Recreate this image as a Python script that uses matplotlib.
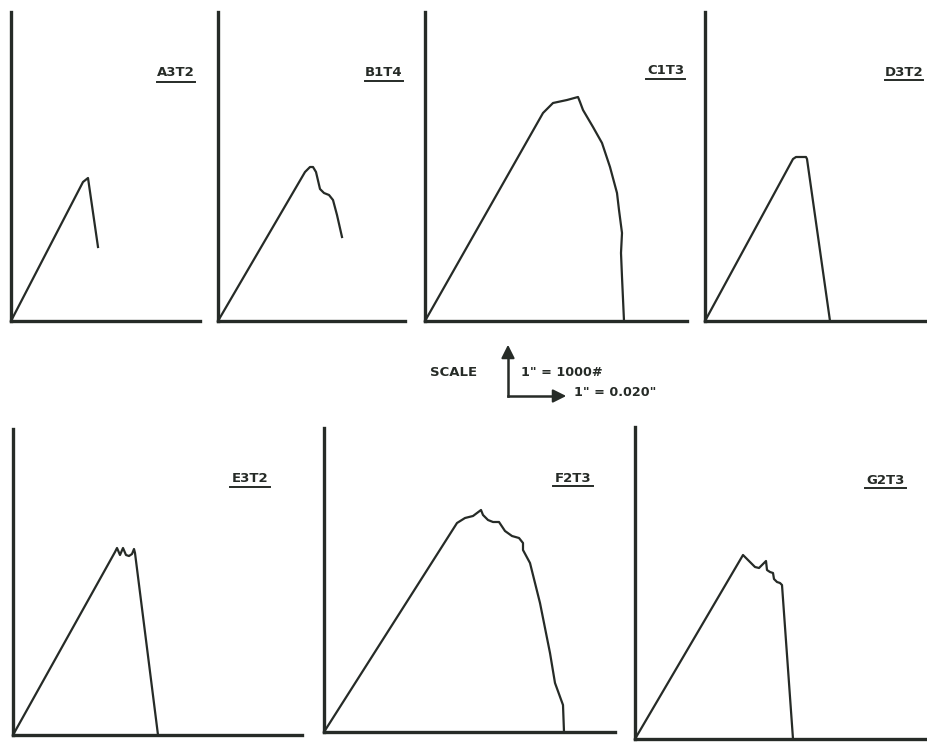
import matplotlib
matplotlib.use("Agg")
import matplotlib.pyplot as plt
from matplotlib.lines import Line2D
from matplotlib.patches import FancyArrowPatch

# ---------------- data (deflection in inches, load in lb) ----------------
names = ["A3T2", "B1T4", "C1T3", "D3T2", "E3T2", "F2T3", "G2T3"]

a_defl = [0, 0.0144, 0.0154, 0.0174]
a_load = [0, 1390, 1430, 740]

b_defl = [0, 0.0174, 0.0184, 0.0190, 0.0196, 0.0204, 0.0212, 0.0222, 0.0230, 0.0238, 0.0248]
b_load = [0, 1490, 1540, 1540, 1490, 1320, 1280, 1260, 1210, 1060, 840]

c_defl = [0, 0.0236, 0.0256, 0.0284, 0.0306, 0.0310, 0.0316, 0.0336, 0.0354, 0.0370,
          0.0384, 0.0388, 0.0394, 0.0392, 0.0394, 0.0398]
c_load = [0, 2080, 2180, 2210, 2240, 2190, 2110, 1940, 1780, 1540,
          1280, 1110, 880, 680, 440, 0]

d_defl = [0, 0.0176, 0.0182, 0.0202, 0.0204, 0.0250]
d_load = [0, 1620, 1640, 1640, 1620, 0]

e_defl = [0, 0.0204, 0.0208, 0.0214, 0.0220, 0.0226, 0.0232, 0.0238, 0.0242, 0.0244, 0.0290]
e_load = [0, 1830, 1870, 1800, 1870, 1800, 1790, 1810, 1860, 1820, 0]

f_defl = [0, 0.0266, 0.0282, 0.0298, 0.0306, 0.0314, 0.0318, 0.0328, 0.0338, 0.0350,
          0.0354, 0.0362, 0.0376, 0.0390, 0.0398, 0.0398, 0.0412, 0.0432, 0.0452,
          0.0462, 0.0478, 0.0480]
f_load = [0, 2090, 2140, 2160, 2190, 2220, 2170, 2120, 2100, 2100,
          2070, 2010, 1960, 1940, 1890, 1820, 1690, 1290, 790,
          490, 270, 0]

g_defl = [0, 0.0216, 0.0240, 0.0248, 0.0256, 0.0262, 0.0264, 0.0270, 0.0276, 0.0278,
          0.0284, 0.0290, 0.0294, 0.0316]
g_load = [0, 1840, 1720, 1710, 1750, 1780, 1690, 1670, 1660, 1600,
          1570, 1560, 1540, 0]

curves = [(a_defl, a_load), (b_defl, b_load), (c_defl, c_load), (d_defl, d_load),
          (e_defl, e_load), (f_defl, f_load), (g_defl, g_load)]

scale_label = "SCALE"
scale_load = "1\" = 1000#"
scale_defl = "1\" = 0.020\""

# ---------------- layout (pixels) ----------------
W, H = 928, 742
# left, right, top, bottom of each panel frame in pixels
boxes = [(11, 200, 12, 321), (218, 405, 12, 321), (425, 687, 12, 321), (705, 925, 12, 321),
         (13, 302, 429, 735), (324, 615, 428, 732), (635, 928, 427, 739)]
# label: x range, text y, underline y
labels_px = [(157, 195, 72, 82), (365, 403, 72, 81), (646, 685, 70, 79), (885, 923, 72, 80),
             (230, 270, 479, 487), (553, 593, 479, 486), (865, 906, 481, 488)]
px_load = 10.0      # lb per pixel
px_defl = 0.0002    # inch per pixel

ink = "#262b27"
fig = plt.figure(figsize=(W / 100, H / 100), dpi=100)
fig.patch.set_facecolor("white")

for (L, R, T, B), (xd, yl), name, (lx0, lx1, ly, uy) in zip(boxes, curves, names, labels_px):
    ax = fig.add_axes([L / W, (H - B) / H, (R - L) / W, (B - T) / H])
    ax.set_xlim(0, (R - L) * px_defl)
    ax.set_ylim(0, (B - T) * px_load)
    ax.plot(xd, yl, color=ink, lw=1.6, solid_joinstyle="round", clip_on=False)
    for s in ("top", "right"):
        ax.spines[s].set_visible(False)
    for s in ("left", "bottom"):
        ax.spines[s].set_linewidth(2.4)
        ax.spines[s].set_color(ink)
    ax.set_xticks([])
    ax.set_yticks([])
    ax.patch.set_alpha(0)
    fig.text((lx0 + lx1) / 2 / W, 1 - ly / H, name, ha="center", va="center",
             fontsize=9.5, fontweight="bold", color=ink, family="DejaVu Sans")
    fig.add_artist(Line2D([lx0 / W, lx1 / W], [1 - uy / H, 1 - uy / H],
                          transform=fig.transFigure, color=ink, lw=1.4))

# ---------------- scale indicator ----------------
fig.text(454 / W, 1 - 372 / H, scale_label, ha="center", va="center",
         fontsize=9.5, fontweight="bold", color=ink)
fig.text(521 / W, 1 - 372 / H, scale_load, ha="left", va="center",
         fontsize=9.2, fontweight="bold", color=ink)
fig.text(574 / W, 1 - 393 / H, scale_defl, ha="left", va="center",
         fontsize=9.2, fontweight="bold", color=ink)
fig.add_artist(Line2D([508 / W, 508 / W], [1 - 396 / H, 1 - 352 / H],
                      transform=fig.transFigure, color=ink, lw=1.8))
fig.add_artist(Line2D([508 / W, 558 / W], [1 - 396 / H, 1 - 396 / H],
                      transform=fig.transFigure, color=ink, lw=1.8))
fig.add_artist(FancyArrowPatch((508 / W, 1 - 356 / H), (508 / W, 1 - 342 / H),
                               transform=fig.transFigure, arrowstyle="-|>,head_length=5,head_width=2.5",
                               color=ink, lw=1.5, mutation_scale=1.6))
fig.add_artist(FancyArrowPatch((555 / W, 1 - 396 / H), (569 / W, 1 - 396 / H),
                               transform=fig.transFigure, arrowstyle="-|>,head_length=5,head_width=2.5",
                               color=ink, lw=1.5, mutation_scale=1.6))

fig.savefig("out.png", dpi=100, facecolor="white")
